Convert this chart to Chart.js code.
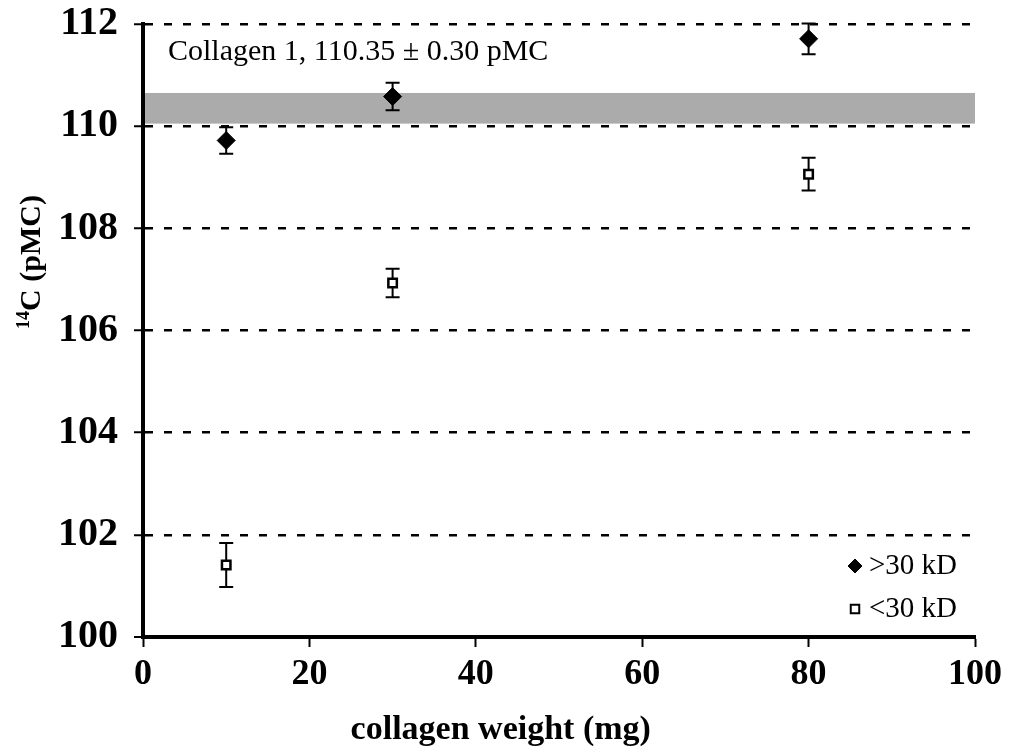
<!DOCTYPE html>
<html>
<head>
<meta charset="utf-8">
<script src="https://cdn.jsdelivr.net/npm/chart.js@4"></script>
<style>
  html, body { margin: 0; padding: 0; background: #fff; }
  #wrap { width: 1020px; height: 750px; }
</style>
</head>
<body>
<div id="wrap"><canvas id="c14Chart" width="1020" height="750"></canvas></div>
<script>
// Data
const weights = [10, 30, 80];
const above30 = [109.72, 110.58, 111.71];
const above30Err = [0.26, 0.27, 0.30];
const below30 = [101.41, 106.93, 109.06];
const below30Err = [0.43, 0.28, 0.32];
const yTicks = [100, 102, 104, 106, 108, 110, 112];
const xTicks = [0, 20, 40, 60, 80, 100];
const collagenMean = 110.35;
const collagenErr = 0.30;

const serif = '"Liberation Serif", "Times New Roman", serif';

function toPoints(xs, ys) {
    return xs.map((x, i) => ({x: x, y: ys[i]}));
}

// Shaded band for the reference collagen value
const bandPlugin = {
    id: 'band',
    beforeDatasetsDraw(chart) {
        const ctx = chart.ctx;
        const x = chart.scales.x, y = chart.scales.y;
        const top = y.getPixelForValue(collagenMean + collagenErr);
        const bottom = y.getPixelForValue(collagenMean - collagenErr);
        ctx.save();
        ctx.fillStyle = '#ababab';
        ctx.fillRect(x.left, top, x.right - x.left, bottom - top);
        ctx.restore();
    }
};

// Vertical error bars with caps
const errorBarPlugin = {
    id: 'errorBars',
    beforeDatasetsDraw(chart) {
        const ctx = chart.ctx;
        const x = chart.scales.x, y = chart.scales.y;
        ctx.save();
        ctx.strokeStyle = '#000';
        ctx.lineWidth = 2;
        chart.data.datasets.forEach(ds => {
            ds.data.forEach((p, i) => {
                const px = x.getPixelForValue(p.x);
                const y1 = y.getPixelForValue(p.y + ds.errors[i]);
                const y2 = y.getPixelForValue(p.y - ds.errors[i]);
                ctx.beginPath();
                ctx.moveTo(px, y1); ctx.lineTo(px, y2);
                ctx.moveTo(px - 7, y1); ctx.lineTo(px + 7, y1);
                ctx.moveTo(px - 7, y2); ctx.lineTo(px + 7, y2);
                ctx.stroke();
            });
        });
        ctx.restore();
    }
};

// Solid axis lines, annotation, legend, axis titles
const textPlugin = {
    id: 'texts',
    afterDraw(chart) {
        const ctx = chart.ctx;
        const area = chart.chartArea;
        ctx.save();
        ctx.strokeStyle = '#000';
        ctx.lineWidth = 4;
        ctx.setLineDash([]);
        ctx.beginPath();
        ctx.moveTo(area.left, area.top);
        ctx.lineTo(area.left, area.bottom);
        ctx.lineTo(area.right, area.bottom);
        ctx.stroke();

        ctx.fillStyle = '#000';
        ctx.textBaseline = 'middle';

        ctx.font = '30px ' + serif;
        ctx.textAlign = 'left';
        ctx.fillText('Collagen 1, 110.35 \u00b1 0.30 pMC', area.left + 25, area.top + 28);

        // legend
        ctx.font = '29px ' + serif;
        const lx = area.right - 120;
        const rows = [area.bottom - 71, area.bottom - 28];
        chart.data.datasets.forEach((ds, i) => {
            ctx.fillStyle = ds.backgroundColor;
            ctx.strokeStyle = ds.borderColor;
            ctx.lineWidth = ds.legendBorder;
            Chart.helpers.drawPoint(ctx, {
                pointStyle: ds.pointStyle,
                radius: ds.legendRadius,
                borderWidth: ds.legendBorder
            }, lx, rows[i]);
            ctx.fillStyle = '#000';
            ctx.fillText(ds.label, lx + 14, rows[i]);
        });

        // x axis title
        ctx.font = 'bold 34px ' + serif;
        ctx.textAlign = 'center';
        ctx.fillText('collagen weight (mg)', area.left + 0.43 * (area.right - area.left), 730);

        // y axis title with superscript
        ctx.translate(32, 262);
        ctx.rotate(-Math.PI / 2);
        ctx.textAlign = 'left';
        const main = 'C (pMC)';
        ctx.font = 'bold 30px ' + serif;
        const wMain = ctx.measureText(main).width;
        ctx.font = 'bold 18px ' + serif;
        const wSup = ctx.measureText('14').width;
        const start = -(wMain + wSup) / 2;
        ctx.fillText('14', start, -8);
        ctx.font = 'bold 30px ' + serif;
        ctx.fillText(main, start + wSup, 0);
        ctx.restore();
    }
};

const ctx = document.getElementById('c14Chart').getContext('2d');
const chart = new Chart(ctx, {
    type: 'scatter',
    data: {
        datasets: [{
            label: '>30 kD',
            data: toPoints(weights, above30),
            errors: above30Err,
            pointStyle: 'rectRot',
            pointRadius: 9,
            legendRadius: 7,
            legendBorder: 1,
            backgroundColor: '#000',
            borderColor: '#000',
            borderWidth: 1
        }, {
            label: '<30 kD',
            data: toPoints(weights, below30),
            errors: below30Err,
            pointStyle: 'rect',
            pointRadius: 6,
            legendRadius: 6,
            legendBorder: 2,
            backgroundColor: '#fff',
            borderColor: '#000',
            borderWidth: 2.5
        }]
    },
    options: {
        responsive: false,
        animation: false,
        layout: { padding: { top: 24, right: 45, left: 0, bottom: 0 } },
        plugins: {
            legend: { display: false },
            tooltip: { enabled: false }
        },
        scales: {
            x: {
                type: 'linear',
                min: 0,
                max: 100,
                afterBuildTicks: s => { s.ticks = xTicks.map(v => ({value: v})); },
                afterFit: s => { s.height = 113; },
                border: { display: true, color: '#000', width: 4 },
                grid: {
                    drawOnChartArea: false,
                    drawTicks: true,
                    tickLength: 10,
                    tickColor: '#000',
                    tickWidth: 2
                },
                ticks: {
                    color: '#000',
                    padding: 6,
                    font: { family: serif, size: 36, weight: 'bold' }
                }
            },
            y: {
                min: 100,
                max: 112,
                afterBuildTicks: s => { s.ticks = yTicks.map(v => ({value: v})); },
                afterFit: s => { s.width = 143; },
                border: { display: true, color: '#000', width: 4, dash: [8, 11] },
                grid: {
                    color: '#000',
                    lineWidth: ctx => ctx.tick && ctx.tick.value === 100 ? 0 : 2.5,
                    tickBorderDash: [],
                    tickLength: 9,
                    tickColor: '#000',
                    tickWidth: 2
                },
                ticks: {
                    color: '#000',
                    padding: 16,
                    font: { family: serif, size: 40, weight: 'bold', lineHeight: 0.3 }
                }
            }
        }
    },
    plugins: [bandPlugin, errorBarPlugin, textPlugin]
});
</script>
</body>
</html>
